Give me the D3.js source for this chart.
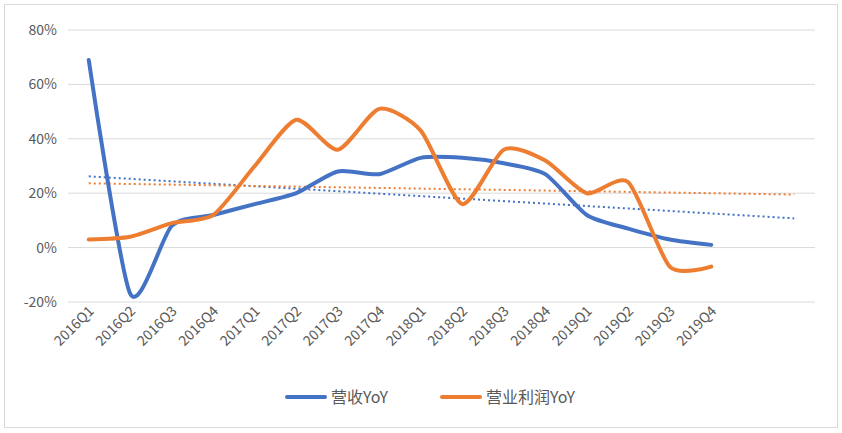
<!DOCTYPE html>
<html><head><meta charset="utf-8">
<script src="https://cdn.jsdelivr.net/npm/d3@7"></script>
<style>body{margin:0;background:#fff}</style></head>
<body><svg id="chart" width="842" height="433"></svg>
<script>
const categories = ['2016Q1','2016Q2','2016Q3','2016Q4','2017Q1','2017Q2','2017Q3','2017Q4',
  '2018Q1','2018Q2','2018Q3','2018Q4','2019Q1','2019Q2','2019Q3','2019Q4'];
const revenueYoY = [69, -17, 8, 12, 16, 20, 28, 27, 33, 33, 31, 27, 12, 7, 3, 1];
const profitYoY = [3, 4, 9, 12, 30, 47, 36, 51, 43, 16, 36, 32, 20, 24, -7, -7];
const yTicks = [-20, 0, 20, 40, 60, 80];
const seriesNames = ['营收YoY', '营业利润YoY'];
const colors = ['#4472C4', '#ED7D31'];

const svg = d3.select('#chart');
const font = '"Noto Sans CJK SC", "DejaVu Sans", sans-serif';
svg.append('rect').attr('x', 4.5).attr('y', 4.5).attr('width', 833).attr('height', 423)
  .attr('fill', 'none').attr('stroke', '#d9d9d9');

// 18 slots: the trendlines forecast two periods past the data
const slots = d3.range(18);
const x = d3.scaleBand().domain(slots).range([68, 815]);
const cx = i => x(i) + x.bandwidth() / 2;
const y = d3.scaleLinear().domain([-20, 80]).range([302, 30]);

svg.append('g').selectAll('line').data(yTicks).enter().append('line')
  .attr('x1', 68).attr('x2', 815).attr('y1', d => y(d)).attr('y2', d => y(d))
  .attr('stroke', '#d9d9d9');
svg.append('g').selectAll('text').data(yTicks).enter().append('text')
  .attr('x', 57).attr('y', d => y(d) + 5).attr('text-anchor', 'end')
  .attr('font-family', font).attr('font-size', 14).attr('fill', '#595959')
  .text(d => d + '%');

svg.append('g').selectAll('text').data(categories).enter().append('text')
  .attr('transform', (d, i) => `translate(${cx(i) + 6},${y(-20) + 10}) rotate(-45)`)
  .attr('text-anchor', 'end').attr('font-family', font).attr('font-size', 14)
  .attr('fill', '#595959').text(d => d);

function trend(vals) {
  const n = vals.length, xs = d3.range(n);
  const mx = d3.mean(xs), my = d3.mean(vals);
  const b = d3.sum(xs, i => (i - mx) * (vals[i] - my)) / d3.sum(xs, i => (i - mx) ** 2);
  const a = my - b * mx;
  return [[0, a], [17, a + b * 17]];
}

[revenueYoY, profitYoY].forEach((vals, k) => {
  svg.append('path').datum(trend(vals))
    .attr('d', d3.line().x(d => cx(d[0])).y(d => y(d[1])))
    .attr('stroke', colors[k]).attr('stroke-width', 2).attr('stroke-dasharray', '2,3')
    .attr('fill', 'none');
});
[revenueYoY, profitYoY].forEach((vals, k) => {
  svg.append('path').datum(vals)
    .attr('d', d3.line().x((d, i) => cx(i)).y(d => y(d)).curve(d3.curveCardinal.tension(0.3)))
    .attr('stroke', colors[k]).attr('stroke-width', 4).attr('stroke-linecap', 'round')
    .attr('fill', 'none');
});

// legend
const lg = svg.append('g');
const lx = [287, 442];
seriesNames.forEach((name, k) => {
  lg.append('line').attr('x1', lx[k]).attr('x2', lx[k] + 38).attr('y1', 397).attr('y2', 397)
    .attr('stroke', colors[k]).attr('stroke-width', 4).attr('stroke-linecap', 'round');
  lg.append('text').attr('x', lx[k] + 44).attr('y', 403).attr('font-family', font)
    .attr('font-size', 16).attr('fill', '#595959').text(name);
});
</script></body></html>
